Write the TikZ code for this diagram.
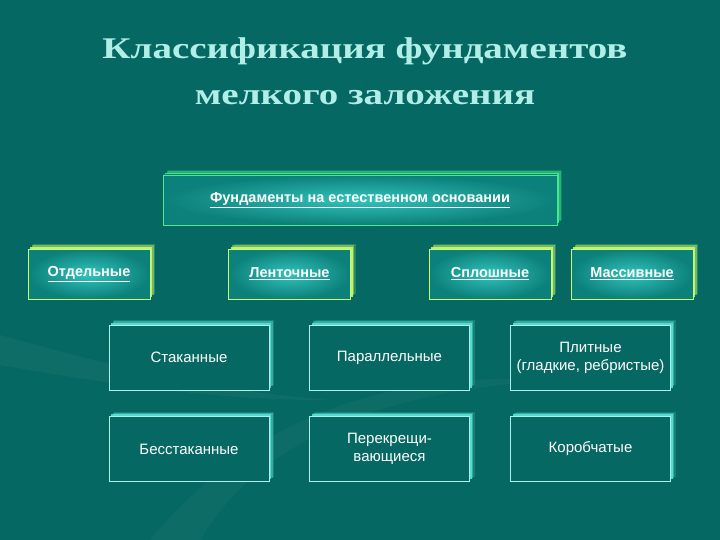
\documentclass[tikz,border=0pt]{standalone}
\usepackage{fontspec}
\setmainfont{Liberation Serif}
\setsansfont{Liberation Sans}
\newfontfamily\titlefont[FakeStretch=1.3]{Liberation Serif}
\usetikzlibrary{positioning}
\definecolor{bgteal}{RGB}{6,104,98}
\definecolor{titlecyan}{RGB}{178,238,232}
\definecolor{glowgreen}{RGB}{70,235,140}
\definecolor{glowlime}{RGB}{200,250,110}
\definecolor{glowcyan}{RGB}{90,225,215}
\definecolor{edgecyan}{RGB}{170,240,235}
\definecolor{shadelight}{RGB}{50,195,188}
\definecolor{shadedark}{RGB}{12,128,122}

\tikzstyle{glow} = [preaction={fill=#1, opacity=0.2, transform canvas={shift={(5pt,5pt)}}},
                    preaction={fill=#1, opacity=0.45, transform canvas={shift={(3.8pt,3.8pt)}}},
                    preaction={fill=#1, opacity=0.9, transform canvas={shift={(2.4pt,2.4pt)}}}]

\begin{document}
\begin{tikzpicture}[x=1pt,y=-1pt,
    every node/.style={text=white, font=\sffamily, align=center, inner sep=0pt},
    topbox/.style={draw=glowgreen, line width=0.9pt, glow=glowgreen,
      inner color=shadelight, outer color=shadedark, font=\sffamily\bfseries\fontsize{14.5}{17}\selectfont,
      minimum width=394pt, minimum height=50pt},
    kindbox/.style={draw=glowlime, line width=0.9pt, glow=glowlime,
      inner color=shadelight, outer color=shadedark, font=\sffamily\bfseries\fontsize{14.5}{17}\selectfont,
      minimum width=122pt, minimum height=50pt},
    subbox/.style={draw=edgecyan, line width=0.9pt, glow=glowcyan, fill=bgteal,
      font=\sffamily\fontsize{15}{18}\selectfont,
      minimum width=160pt, minimum height=65pt},
  ]
  \useasboundingbox (0,0) rectangle (720,540);
  \fill[bgteal] (0,0) rectangle (720,540);
  % faint swoosh in the background
  \fill[white, opacity=0.04] (0,335) .. controls (90,360) and (200,390) .. (330,400)
    .. controls (200,400) and (90,380) .. (0,365) -- cycle;
  \fill[white, opacity=0.03] (150,540) .. controls (250,420) and (380,370) .. (560,380)
    .. controls (380,390) and (260,440) .. (200,540) -- cycle;

  % title
  \node[text=titlecyan, font=\titlefont\bfseries\fontsize{30}{46}\selectfont] (title) at (365,71)
    {Классификация фундаментов\\мелкого заложения};

  % top level
  \node[topbox] (natural) at (360,200) {\underline{Фундаменты на естественном основании}};

  % kinds
  \node[kindbox] (single) at (89,274) {\underline{Отдельные}};
  \node[kindbox] (strip) at (289.5,274) {\underline{Ленточные}};
  \node[kindbox] (solid) at (490,274) {\underline{Сплошные}};
  \node[kindbox] (massive) at (632,274) {\underline{Массивные}};

  % subtypes
  \node[subbox] (glass) at (189,357.5) {Стаканные};
  \node[subbox] (parallel) at (389.5,357.5) {Параллельные};
  \node[subbox] (slab) at (590.5,357.5) {Плитные\\(гладкие, ребристые)};
  \node[subbox] (noglass) at (189,449) {Бесстаканные};
  \node[subbox] (cross) at (389.5,449) {Перекрещи-\\вающиеся};
  \node[subbox] (boxlike) at (590.5,449) {Коробчатые};
\end{tikzpicture}
\end{document}
